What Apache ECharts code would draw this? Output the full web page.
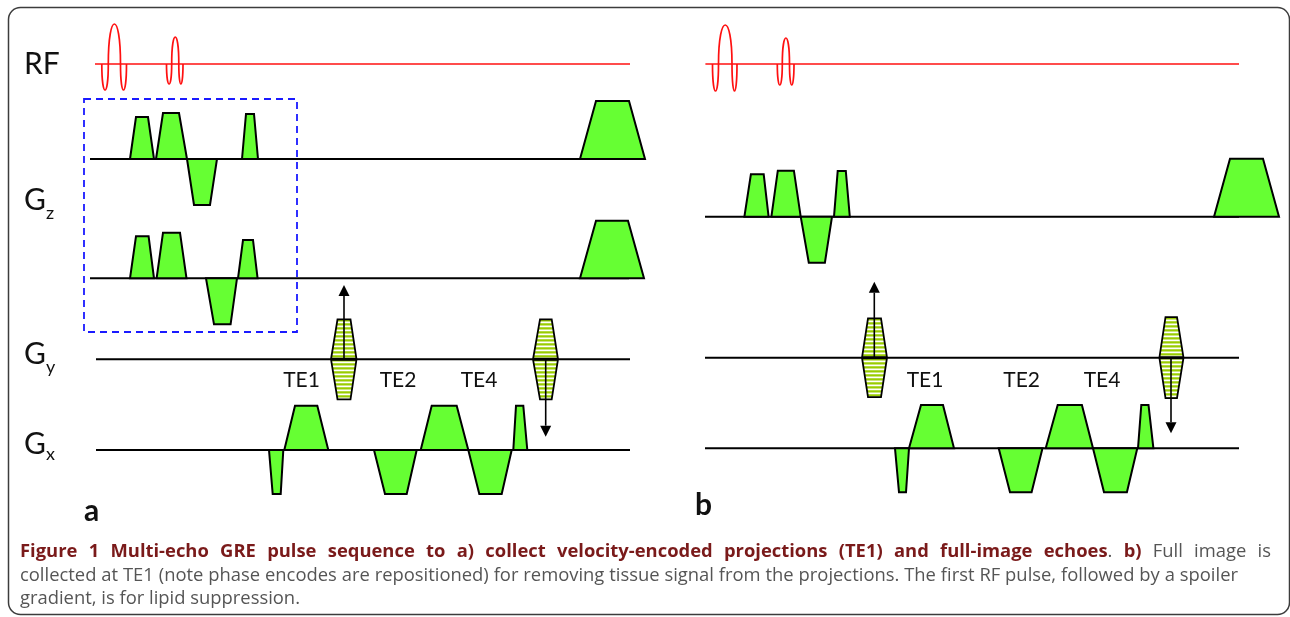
<!DOCTYPE html>
<html><head><meta charset="utf-8">
<script src="https://cdn.jsdelivr.net/npm/echarts@6/dist/echarts.min.js"></script>
<style>html,body{margin:0;padding:0;background:#fff;}#c{width:1290px;height:617px;}</style>
</head><body><div id="c"></div>
<script>
// ===== DATA (time in pixel-equivalent units, amplitude = height above the row baseline) =====
// RF lobes: [start, end, amplitude]
const rfLobesA = [[101.8,108.3,-26],[108.3,120.5,40],[120.5,126.5,-26],[166.5,171.7,-20],[171.7,178.8,27],[178.8,183,-20]];
const rfLobesB = [[712.5,718.5,-27],[718.5,732,39],[732,737,-27],[777.3,782.3,-21],[782.3,789.5,26],[789.5,794,-21]];
// gradient trapezoids: [rampUpStart, flatStart, flatEnd, rampDownEnd, amplitude]
const gzA1 = [[130,136,148,154,42],[156,163,179,187,46],[187,194,210,217,-46],[242,246,254,258,45],[580,596,629,645,58]];
const gzA2 = [[130,136,148.6,154,42],[156.6,163,180,186.5,45.6],[206,214,230.6,237,-46],[238,243,253,257.6,38.3],[580,596,628,644,57.6]];
const gxA  = [[269,272.7,280.7,283.3,-44],[284.3,295,317.3,328.3,44.3],[374,385,406.7,416.7,-44],[420.7,431.7,456.7,468.3,44.3],[468.3,479.3,501.7,511.7,-44],[513.3,516,523.3,527.3,44.3]];
const gzB  = [[744.4,750.9,763.7,768.6,42.4],[771.4,777.8,793.9,800.7,46],[800.7,808.8,824.9,832,-46],[834,837.7,845.8,849.8,45.7],[1214,1230,1263,1279,58]];
const gxB  = [[895,899,906,909,-44],[909,921,943,954,43.3],[998.7,1010,1031.6,1042.5,-44],[1045.7,1057.7,1081.9,1093,43.3],[1093,1104,1126.9,1137.3,-44],[1138,1141.3,1148.5,1153.4,43.3]];
// phase-encode tables: [outerStart, flatStart, flatEnd, outerEnd, amplitude]
const gyTablesA = [[331,337.5,350.5,356.5,40],[533,540,551.7,558,40]];
const gyTablesB = [[862,868,881,887,39.4],[1159.4,1165.5,1177,1183.5,40.5]];
// phase-encode arrows: [time, amplitude of tip]
const gyArrowsA = [[344,74.3],[545.7,-77.4]];
const gyArrowsB = [[874.3,76],[1171,-75.6]];
// echo labels
const echoLabels = ['TE1','TE2','TE4'];
const echoTimesA = [301.5,398,479];
const echoTimesB = [925,1021.6,1102];
const rowLabels = [['RF',''],['G','z'],['G','y'],['G','x']];
const panelLabels = ['a','b'];
const captionLines = [
 '**Figure 1 Multi-echo GRE pulse sequence to a) collect velocity-encoded projections (TE1) and full-image echoes**. **b)** Full image is',
 'collected at TE1 (note phase encodes are repositioned) for removing tissue signal from the projections. The first RF pulse, followed by a spoiler',
 'gradient, is for lipid suppression.'
];

// ===== LAYOUT =====
const rows = {
  rfA:{y:64,x0:95,x1:630},   gzA1:{y:159,x0:90,x1:629}, gzA2:{y:278.3,x0:90,x1:629},
  gyA:{y:359.3,x0:96,x1:630}, gxA:{y:450,x0:96,x1:630},
  rfB:{y:64,x0:705.4,x1:1239}, gzB:{y:216.7,x0:705,x1:1239},
  gyB:{y:357.7,x0:705,x1:1239}, gxB:{y:448.3,x0:705,x1:1239}
};
const echoLabelY = 380;
const GREEN='#66ff33', STRIPE='#99cc00', RED='#ff1010', BLUE='#1a1aff';

function baseLine(row,color,width){
  return {type:'line',data:[[row.x0,row.y],[row.x1,row.y]],symbol:'none',silent:true,z:2,
    lineStyle:{color:color,width:width},animation:false};
}
function trapSeries(data,row){
  return {type:'custom',data:data,z:3,clip:false,silent:true,
    renderItem:function(p,api){
      const b=row.y,a=api.value(4);
      const pts=[[api.value(0),b],[api.value(1),b-a],[api.value(2),b-a],[api.value(3),b]].map(q=>api.coord(q));
      return {type:'polygon',shape:{points:pts},style:{fill:GREEN,stroke:'#000',lineWidth:2,lineJoin:'miter'}};
    }};
}
function rfSeries(data,row){
  return {type:'custom',data:data,z:3,clip:false,silent:true,
    renderItem:function(p,api){
      const x0=api.value(0),x1=api.value(1),a=api.value(2),b=row.y;
      const p0=api.coord([x0,b]),p1=api.coord([x1,b]),c=api.coord([x0,b-a*4/3]);
      return {type:'bezierCurve',shape:{x1:p0[0],y1:p0[1],x2:p1[0],y2:p1[1],cpx1:p0[0],cpy1:c[1],cpx2:p1[0],cpy2:c[1]},
        style:{fill:'none',stroke:RED,lineWidth:1.7}};
    }};
}
function tableSeries(data,row){
  return {type:'custom',data:data,z:3,clip:false,silent:true,
    renderItem:function(p,api){
      const x0=api.value(0),x1=api.value(1),x2=api.value(2),x3=api.value(3),amp=api.value(4),b=row.y;
      const edge=y=>{const d=Math.abs(y-b)/amp;return [x0+(x1-x0)*d,x3-(x3-x2)*d];};
      const outline=[[x1,b-amp],[x2,b-amp],[x3,b],[x2,b+amp],[x1,b+amp],[x0,b]].map(q=>api.coord(q));
      const ch=[{type:'polygon',shape:{points:outline},style:{fill:'#fff'}}];
      for(let y=b-amp;y<b+amp;y+=4){
        const ya=y,yb=Math.min(y+2.3,b+amp);
        const segs=(ya<b&&yb>b)?[[ya,b],[b,yb]]:[[ya,yb]];
        segs.forEach(function(s){
          const es=edge(s[0]),ee=edge(s[1]);
          ch.push({type:'polygon',shape:{points:[[es[0],s[0]],[es[1],s[0]],[ee[1],s[1]],[ee[0],s[1]]].map(q=>api.coord(q))},style:{fill:STRIPE}});
        });
      }
      ch.push({type:'polygon',shape:{points:outline},style:{fill:'none',stroke:'#000',lineWidth:1.8}});
      const l0=api.coord([x0,b]),l1=api.coord([x3,b]);
      ch.push({type:'line',shape:{x1:l0[0],y1:l0[1],x2:l1[0],y2:l1[1]},style:{stroke:'#000',lineWidth:3}});
      return {type:'group',children:ch};
    }};
}
function arrowSeries(data,row){
  return {type:'custom',data:data,z:4,clip:false,silent:true,
    renderItem:function(p,api){
      const x=api.value(0),amp=api.value(1),b=row.y,tip=b-amp,dir=amp>0?1:-1,head=11,hw=5.5;
      const p0=api.coord([x,b]),pb=api.coord([x,tip+dir*head]),pt=api.coord([x,tip]);
      const pl=api.coord([x-hw,tip+dir*head]),pr=api.coord([x+hw,tip+dir*head]);
      return {type:'group',children:[
        {type:'line',shape:{x1:p0[0],y1:p0[1],x2:pb[0],y2:pb[1]},style:{stroke:'#000',lineWidth:1.6}},
        {type:'polygon',shape:{points:[pt,pl,pr]},style:{fill:'#000'}}]};
    }};
}
function echoSeries(times){
  return {type:'custom',data:times.map((t,i)=>[t,i]),z:5,clip:false,silent:true,
    renderItem:function(p,api){
      const c=api.coord([api.value(0),echoLabelY]);
      return {type:'text',style:{text:echoLabels[api.value(1)],x:c[0],y:c[1],font:'21px Lato',fill:'#111',
        textAlign:'center',textVerticalAlign:'middle'}};
    }};
}
const boxData=[[84,99,297,332]];
const boxSeries={type:'custom',data:boxData,z:5,clip:false,silent:true,
  renderItem:function(p,api){
    const a=api.coord([api.value(0),api.value(1)]),b=api.coord([api.value(2),api.value(3)]);
    return {type:'rect',shape:{x:a[0],y:a[1],width:b[0]-a[0],height:b[1]-a[1]},
      style:{fill:'none',stroke:BLUE,lineWidth:1.8,lineDash:[7,5]}};
  }};

// ===== STATIC TEXT =====
const graphics=[];
graphics.push({type:'rect',shape:{x:8.5,y:7.5,width:1281,height:607,r:12},style:{fill:'none',stroke:'#3c3c3c',lineWidth:1.5},z:0});
const labelPos=[[64],[200,213],[354,367],[444,454]];
rowLabels.forEach(function(l,i){
  graphics.push({type:'text',x:24,y:labelPos[i][0],style:{text:l[0],font:'30px Lato',fill:'#111',textVerticalAlign:'middle'}});
  if(l[1]) graphics.push({type:'text',x:46,y:labelPos[i][1],style:{text:l[1],font:'18px Lato',fill:'#111',textVerticalAlign:'middle'}});
});
const panelPos=[[84,511],[695,505]];
panelLabels.forEach(function(l,i){
  graphics.push({type:'text',x:panelPos[i][0],y:panelPos[i][1],style:{text:l,font:'bold 30px Lato',fill:'#111',textVerticalAlign:'middle'}});
});
// caption (ragged right, lines 1-2 fitted to their measured ends)
const CAP_FONT='"Open Sans"', CAP_BOLD='#7a1a1a', CAP_REG='#555';
let CAP_SIZE=16;
const mctx=document.createElement('canvas').getContext('2d');
function fontOf(b){return (b?'bold ':'')+CAP_SIZE+'px '+CAP_FONT;}
function segW(t,b){mctx.font=fontOf(b);return mctx.measureText(t).width;}
function parseLine(s){
  const words=[];let bold=false,cur=[],seg='';
  const push=()=>{if(seg){cur.push({t:seg,b:bold});seg='';}};
  for(let i=0;i<s.length;i++){
    if(s.startsWith('**',i)){push();bold=!bold;i++;continue;}
    const c=s[i];
    if(c===' '){push();if(cur.length){words.push(cur);cur=[];}continue;}
    seg+=c;
  }
  push();if(cur.length)words.push(cur);return words;
}
function naturalW(words){
  return words.reduce((s,w)=>s+w.reduce((a,g)=>a+segW(g.t,g.b),0),0)+segW(' ',false)*(words.length-1);
}
// fit the font size so that the second line has its measured natural width
(function(){const w=naturalW(parseLine(captionLines[1]));CAP_SIZE=Math.round(16*1215/w*10)/10;})();
const capLeft=20, capRight=[1271,1238,null], capY=[552,576,599];
captionLines.forEach(function(line,li){
  const words=parseLine(line);
  const ws=words.map(w=>w.reduce((s,g)=>s+segW(g.t,g.b),0));
  const total=ws.reduce((a,b)=>a+b,0);
  const gap=capRight[li]?(capRight[li]-capLeft-total)/(words.length-1):segW(' ',false);
  let x=capLeft;
  words.forEach(function(w,wi){
    let xx=x;
    w.forEach(function(g){
      graphics.push({type:'text',x:xx,y:capY[li],style:{text:g.t,font:fontOf(g.b),fill:g.b?CAP_BOLD:CAP_REG,textVerticalAlign:'middle'}});
      xx+=segW(g.t,g.b);
    });
    x+=ws[wi]+gap;
  });
});

const chart=echarts.init(document.getElementById('c'),null,{renderer:'canvas'});
chart.setOption({
  animation:false,
  grid:{left:0,right:0,top:0,bottom:0},
  xAxis:{type:'value',min:0,max:1290,show:false},
  yAxis:{type:'value',min:0,max:617,inverse:true,show:false},
  series:[
    baseLine(rows.rfA,RED,1.7), baseLine(rows.rfB,RED,1.7),
    baseLine(rows.gzA1,'#000',2), baseLine(rows.gzA2,'#000',2), baseLine(rows.gyA,'#000',2), baseLine(rows.gxA,'#000',2),
    baseLine(rows.gzB,'#000',2), baseLine(rows.gyB,'#000',2), baseLine(rows.gxB,'#000',2),
    rfSeries(rfLobesA,rows.rfA), rfSeries(rfLobesB,rows.rfB),
    trapSeries(gzA1,rows.gzA1), trapSeries(gzA2,rows.gzA2), trapSeries(gxA,rows.gxA),
    trapSeries(gzB,rows.gzB), trapSeries(gxB,rows.gxB),
    tableSeries(gyTablesA,rows.gyA), tableSeries(gyTablesB,rows.gyB),
    arrowSeries(gyArrowsA,rows.gyA), arrowSeries(gyArrowsB,rows.gyB),
    echoSeries(echoTimesA), echoSeries(echoTimesB),
    boxSeries
  ],
  graphic:graphics
});
</script></body></html>
